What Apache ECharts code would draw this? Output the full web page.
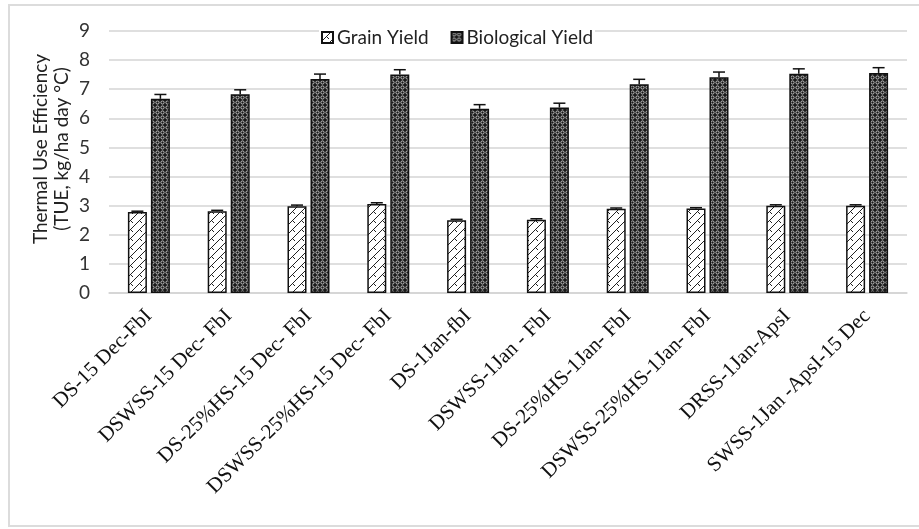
<!DOCTYPE html>
<html>
<head>
<meta charset="utf-8">
<script src="https://cdn.jsdelivr.net/npm/echarts@6/dist/echarts.min.js"></script>
<style>
  html, body { margin: 0; padding: 0; background: #fff; }
  #chart { width: 919px; height: 529px; }
</style>
</head>
<body>
<div id="chart"></div>
<script>
var categories = [
  'DS-15 Dec-FbI', 'DSWSS-15 Dec- FbI', 'DS-25%HS-15 Dec- FbI', 'DSWSS-25%HS-15 Dec- FbI',
  'DS-1Jan-fbI', 'DSWSS-1Jan - FbI', 'DS-25%HS-1Jan- FbI', 'DSWSS-25%HS-1Jan- FbI',
  'DRSS-1Jan-ApsI', 'SWSS-1Jan -ApsI-15 Dec'
]
var grainYield = [2.78, 2.81, 2.98, 3.06, 2.5, 2.52, 2.89, 2.9, 3.0, 3.0]
var grainErr = [0.03, 0.03, 0.04, 0.04, 0.03, 0.03, 0.03, 0.03, 0.03, 0.03]
var bioYield = [6.67, 6.83, 7.35, 7.51, 6.33, 6.37, 7.17, 7.41, 7.53, 7.56]
var bioErr = [0.15, 0.15, 0.17, 0.16, 0.14, 0.15, 0.17, 0.18, 0.17, 0.18]

// fill patterns
function hatchPattern() {
  var c = document.createElement('canvas')
  c.width = 9; c.height = 9
  var ctx = c.getContext('2d')
  ctx.fillStyle = '#fff'
  ctx.fillRect(0, 0, 9, 9)
  ctx.strokeStyle = '#222'
  ctx.lineWidth = 1
  ctx.beginPath()
  ctx.moveTo(0, 9); ctx.lineTo(9, 0)
  ctx.moveTo(4.5, 4.5); ctx.lineTo(7, 7)
  ctx.stroke()
  return c
}
function dotPattern() {
  var c = document.createElement('canvas')
  c.width = 5; c.height = 5
  var ctx = c.getContext('2d')
  ctx.fillStyle = '#1a1a1a'
  ctx.fillRect(0, 0, 5, 5)
  ctx.strokeStyle = '#c4c4c4'
  ctx.lineWidth = 1
  ctx.beginPath()
  ctx.arc(2.5, 2.5, 1.6, 0, Math.PI * 2)
  ctx.stroke()
  return c
}

var BAR_W = 19
var GAP = 4

function errorSeries(values, errs, side) {
  return {
    type: 'custom',
    z: 5,
    silent: true,
    data: values.map(function (v, i) { return [i, v, errs[i]] }),
    renderItem: function (params, api) {
      var top = api.coord([api.value(0), api.value(1)])
      var hi = api.coord([api.value(0), api.value(1) + api.value(2)])
      var x = top[0] + side * (BAR_W + GAP) / 2
      var st = { stroke: '#111', lineWidth: 1.5 }
      return {
        type: 'group',
        children: [
          { type: 'line', shape: { x1: x, y1: top[1], x2: x, y2: hi[1] }, style: st },
          { type: 'line', shape: { x1: x - 6, y1: hi[1], x2: x + 6, y2: hi[1] }, style: st }
        ]
      }
    }
  }
}

var myChart = echarts.init(document.getElementById('chart'))
var option = {
  animation: false,
  backgroundColor: '#fff',
  grid: { left: 109, right: 12, top: 31, bottom: 236, containLabel: false },
  legend: {
    top: 26,
    left: 319,
    itemWidth: 11,
    itemHeight: 11,
    itemGap: 22,
    icon: 'rect',
    backgroundColor: '#fff',
    padding: [2, 2],
    textStyle: { fontFamily: 'Lato', fontSize: 19, color: '#222', padding: [0, 0, 0, -1] },
    data: ['Grain Yield', 'Biological Yield']
  },
  xAxis: {
    type: 'category',
    data: categories,
    axisLine: { lineStyle: { color: '#d4d4d4', width: 1.5 } },
    axisTick: { show: false },
    axisLabel: {
      interval: 0,
      rotate: 45,
      margin: 20,
      fontFamily: 'Liberation Serif',
      fontSize: 21,
      color: '#111'
    }
  },
  yAxis: {
    type: 'value',
    min: 0,
    max: 9,
    interval: 1,
    axisLine: { show: false },
    axisTick: { show: false },
    splitLine: { lineStyle: { color: '#d4d4d4', width: 1.5 } },
    axisLabel: { fontFamily: 'Lato', fontSize: 19, color: '#333', margin: 19 }
  },
  graphic: [
    {
      type: 'rect',
      silent: true,
      shape: { x: 9, y: 5, width: 940, height: 521 },
      style: { fill: 'none', stroke: '#dcdcdc', lineWidth: 2 }
    },
    {
      type: 'text',
      x: 41, y: 149,
      rotation: Math.PI / 2,
      style: {
        text: 'Thermal Use Efficiency',
        font: '19px Lato', fill: '#222',
        align: 'center', verticalAlign: 'middle'
      }
    },
    {
      type: 'text',
      x: 62, y: 149,
      rotation: Math.PI / 2,
      style: {
        text: '(TUE, kg/ha day °C)',
        font: '19px Lato', fill: '#222',
        align: 'center', verticalAlign: 'middle'
      }
    }
  ],
  series: [
    {
      name: 'Grain Yield',
      type: 'bar',
      barWidth: BAR_W,
      barGap: (GAP / BAR_W * 100).toFixed(0) + '%',
      itemStyle: {
        color: { image: hatchPattern(), repeat: 'repeat' },
        borderColor: '#111',
        borderWidth: 1.5
      },
      data: grainYield
    },
    {
      name: 'Biological Yield',
      type: 'bar',
      barWidth: BAR_W,
      itemStyle: {
        color: { image: dotPattern(), repeat: 'repeat' },
        borderColor: '#111',
        borderWidth: 1.5
      },
      data: bioYield
    },
    errorSeries(grainYield, grainErr, -1),
    errorSeries(bioYield, bioErr, 1)
  ]
}
myChart.setOption(option)
</script>
</body>
</html>
